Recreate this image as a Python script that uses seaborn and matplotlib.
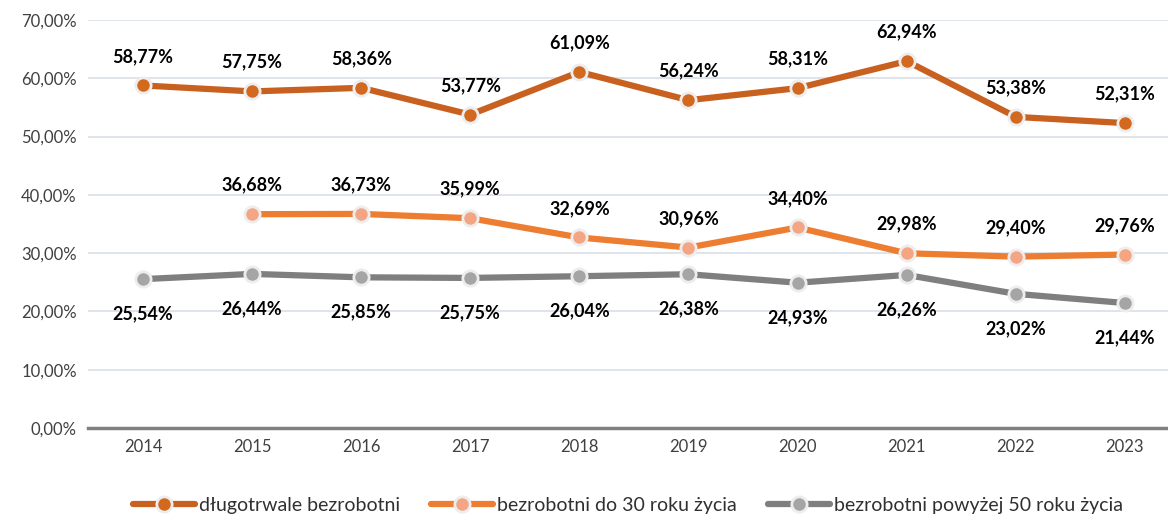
import matplotlib
matplotlib.use("Agg")
import matplotlib.pyplot as plt
import seaborn as sns
import numpy as np
import pandas as pd

years = ["2014", "2015", "2016", "2017", "2018", "2019", "2020", "2021", "2022", "2023"]
dlugotrwale = [58.77, 57.75, 58.36, 53.77, 61.09, 56.24, 58.31, 62.94, 53.38, 52.31]
do_30 = [np.nan, 36.68, 36.73, 35.99, 32.69, 30.96, 34.40, 29.98, 29.40, 29.76]
powyzej_50 = [25.54, 26.44, 25.85, 25.75, 26.04, 26.38, 24.93, 26.26, 23.02, 21.44]

series_names = ["długotrwale bezrobotni", "bezrobotni do 30 roku życia", "bezrobotni powyżej 50 roku życia"]
line_colors = ["#C8611F", "#ED7D31", "#7F7F7F"]
marker_colors = ["#D2691E", "#F4A583", "#A5A5A5"]
label_offsets = [21, 21, -25]  # points, + above / - below

sns.set_theme(style="white")
plt.rcParams["font.family"] = ["Lato", "DejaVu Sans"]

fig = plt.figure(figsize=(11.68, 5.17), dpi=100)
ax = fig.add_axes([88 / 1168, 1 - 428 / 517, 1 - 88 / 1168, (428 - 20) / 517])

x = np.arange(len(years))
for i, (name, vals) in enumerate(zip(series_names, [dlugotrwale, do_30, powyzej_50])):
    df = pd.DataFrame({"x": x, "y": vals}).dropna()
    sns.lineplot(data=df, x="x", y="y", ax=ax, color=line_colors[i], linewidth=4.5,
                 marker="o", markersize=11, markerfacecolor=marker_colors[i],
                 markeredgecolor="#EDEDED", markeredgewidth=2, zorder=3, label=name)
    for xi, yi in zip(df["x"], df["y"]):
        ax.annotate(f"{yi:.2f}%".replace(".", ","), (xi, yi), xytext=(0, label_offsets[i]),
                    textcoords="offset points", ha="center", va="center",
                    fontsize=13, fontweight="bold", color="black")

ax.set_ylim(0, 70)
ax.set_xlim(-0.504, 9.395)
ax.set_yticks(np.arange(0, 71, 10))
ax.set_yticklabels([f"{v},00%" for v in range(0, 71, 10)], fontsize=12, color="#404040")
ax.set_xticks(x)
ax.set_xticklabels(years, fontsize=12, color="#404040")
ax.tick_params(axis="both", length=0, pad=8)
ax.set_xlabel("")
ax.set_ylabel("")
ax.grid(axis="y", color="#D9DEE6", linewidth=1.2)
ax.grid(axis="x", visible=False)
for s in ["top", "right", "left"]:
    ax.spines[s].set_visible(False)
ax.spines["bottom"].set_color("#808080")
ax.spines["bottom"].set_linewidth(2.5)

leg = ax.legend(loc="center", bbox_to_anchor=(0.5, -0.19), ncol=3, frameon=False,
                fontsize=14, handlelength=3.2, columnspacing=1.6, handletextpad=0.2,
                borderpad=0.2)
for t in leg.get_texts():
    t.set_color("#303030")

fig.savefig("out.png", dpi=100)
